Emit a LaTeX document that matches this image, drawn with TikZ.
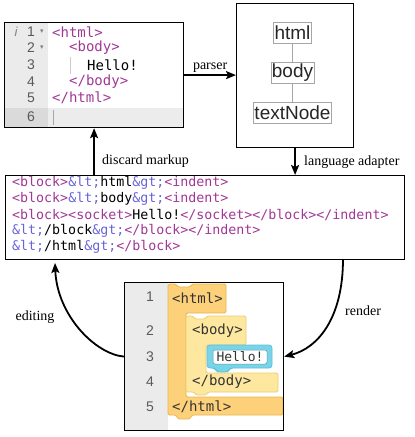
\documentclass[tikz,border=0pt]{standalone}
\usepackage{fontspec}
\setmainfont{Liberation Serif}
\newfontfamily\monof{DejaVu Sans Mono}
\newfontfamily\sansf{Liberation Sans}
\newfontfamily\dejavu{DejaVu Sans}
\usetikzlibrary{arrows.meta}
\definecolor{tagc}{RGB}{160,55,150}
\definecolor{entc}{RGB}{105,100,215}
\definecolor{gutc}{RGB}{235,235,235}
\definecolor{gutd}{RGB}{218,218,218}
\definecolor{rowc}{RGB}{236,236,236}
\definecolor{numc}{RGB}{90,90,90}
\definecolor{htmlfill}{RGB}{253,209,122}
\definecolor{htmldraw}{RGB}{232,182,82}
\definecolor{bodyfill}{RGB}{254,232,160}
\definecolor{bodydraw}{RGB}{236,206,112}
\definecolor{sockfill}{RGB}{122,212,232}
\definecolor{sockdraw}{RGB}{92,192,216}
\newcommand{\tg}[1]{\textcolor{tagc}{#1}}
\newcommand{\en}[1]{\textcolor{entc}{#1}}
\begin{document}
\begin{tikzpicture}[x=1pt,y=-1pt,
  box/.style={draw, line width=1.2pt, inner sep=0pt},
  arr/.style={line width=1.8pt, -{Stealth[length=10pt,width=8pt,inset=2pt]}},
  lbl/.style={font=\fontsize{14}{16}\selectfont, inner sep=1pt},
  edcode/.style={font=\monof\fontsize{14}{16}\selectfont, anchor=west, inner sep=0pt},
  ednum/.style={font=\sansf\fontsize{14}{16}\selectfont, text=numc, anchor=east, inner sep=0pt},
  xmlline/.style={font=\monof\fontsize{13.3}{16}\selectfont, anchor=west, inner sep=0pt},
  treenode/.style={draw=gray!70, line width=0.7pt, font=\sansf\fontsize{19}{21}\selectfont, text=black!85, inner xsep=1pt, inner ysep=0pt, minimum height=21pt},
  blkcode/.style={font=\monof\fontsize{14}{16}\selectfont, text=black!80, anchor=west, inner sep=0pt},
  blknum/.style={font=\sansf\fontsize{14}{16}\selectfont, text=numc, inner sep=0pt}
]
\useasboundingbox (0,0) rectangle (415,437);

% ---------- editor (top left) ----------
\fill[gutc] (4,22) rectangle (48,127);
\fill[gutd] (4,108) rectangle (48,127);
\fill[rowc] (48,108) rectangle (183,127);
\draw[gray!40, line width=0.8pt] (70,57) -- (70,74);
\draw[gray!70, line width=1pt] (53,110) -- (53,125);
\node[font=\sansf\itshape\fontsize{13}{15}\selectfont, text=gray, inner sep=0pt] (ii) at (16,32) {i};
\node[ednum] (n1) at (35,32) {1};
\node[ednum] (n2) at (35,48) {2};
\node[ednum] (n3) at (35,65) {3};
\node[ednum] (n4) at (35,82) {4};
\node[ednum] (n5) at (35,98) {5};
\node[ednum] (n6) at (35,117) {6};
\node[font=\dejavu\fontsize{7}{8}\selectfont, text=gray, inner sep=0pt] (f1) at (42,32) {▾};
\node[font=\dejavu\fontsize{7}{8}\selectfont, text=gray, inner sep=0pt] (f2) at (42,48) {▾};
\node[edcode, text=tagc] (c1) at (52,32) {<html>};
\node[edcode, text=tagc] (c2) at (69,48) {<body>};
\node[edcode, text=black] (c3) at (87,65) {Hello!};
\node[edcode, text=tagc] (c4) at (69,82) {</body>};
\node[edcode, text=tagc] (c5) at (52,98) {</html>};
\node[box, minimum width=179pt, minimum height=105pt, anchor=north west] (editor) at (4,22) {};

% ---------- tree (top right) ----------
\node[box, minimum width=117pt, minimum height=144pt, anchor=north west] (tree) at (236,3) {};
\node[treenode] (thtml) at (292.5,32.5) {html};
\node[treenode] (tbody) at (292.5,72.5) {body};
\node[treenode] (ttext) at (292.5,112.5) {textNode};
\draw[gray!70, line width=0.8pt] (thtml) -- (tbody) -- (ttext);

% ---------- xml text (middle) ----------
\node[box, minimum width=399pt, minimum height=84pt, anchor=north west] (xml) at (5,175) {};
\node[xmlline] (x1) at (12,183) {\tg{<block>}\en{\&lt;}html\en{\&gt;}\tg{<indent>}};
\node[xmlline] (x2) at (12,199) {\tg{<block>}\en{\&lt;}body\en{\&gt;}\tg{<indent>}};
\node[xmlline] (x3) at (12,215) {\tg{<block><socket>}Hello!\tg{</socket></block></indent>}};
\node[xmlline] (x4) at (12,231) {\en{\&lt;}/block\en{\&gt;}\tg{</block></indent>}};
\node[xmlline] (x5) at (12,247) {\en{\&lt;}/html\en{\&gt;}\tg{</block>}};

% ---------- blocks (bottom) ----------
\fill[gutc] (124,282) rectangle (168,430);
\filldraw[fill=htmlfill, draw=htmldraw, line width=0.8pt, rounded corners=1.5pt]
  (168,284) -- (176,284) -- (178,287) -- (190,287) -- (192,284) -- (226,284) -- (226,313)
  -- (186,313) -- (186,397) -- (283,397) -- (283,415) -- (192,415) -- (190,419)
  -- (178,419) -- (176,415) -- (168,415) -- cycle;
\filldraw[fill=bodyfill, draw=bodydraw, line width=0.8pt, rounded corners=1.5pt]
  (186,316) -- (193,316) -- (195,319) -- (205,319) -- (207,316) -- (246,316) -- (246,345)
  -- (206,345) -- (206,373) -- (278,373) -- (278,392) -- (208,392) -- (206,395)
  -- (196,395) -- (194,392) -- (186,392) -- cycle;
\filldraw[fill=sockfill, draw=sockdraw, line width=0.8pt, rounded corners=3pt]
  (207,345) -- (272,345) -- (272,368) -- (230,368) -- (228,372) -- (217,372) -- (215,368) -- (207,368) -- cycle;
\filldraw[fill=white, draw=sockdraw!80!black, line width=0.5pt, rounded corners=2pt] (213,350) rectangle (267,364);
\node[font=\monof\fontsize{13}{15}\selectfont, text=black!80, inner sep=0pt] (hello) at (240,357) {Hello!};
\node[blkcode] (b1) at (172,298) {<html>};
\node[blkcode] (b2) at (192,331) {<body>};
\node[blkcode] (b4) at (192,382) {</body>};
\node[blkcode] (b5) at (172,407) {</html>};
\node[blknum] (m1) at (150,297) {1};
\node[blknum] (m2) at (150,331) {2};
\node[blknum] (m3) at (150,357) {3};
\node[blknum] (m4) at (150,382) {4};
\node[blknum] (m5) at (150,407) {5};
\node[box, minimum width=159pt, minimum height=148pt, anchor=north west] (blocks) at (124,282) {};

% ---------- connectors ----------
\draw[arr] (editor.east) -- (editor.east -| tree.west)
  node[lbl, midway, above=1pt] (lparser) {parser};
\draw[arr] (tree.south) -- (tree.south |- xml.north);
\node[lbl, anchor=west] (llang) at (303,162) {language adapter};
\draw[arr] (editor.south |- xml.north) -- (editor.south);
\node[lbl, anchor=west] (ldisc) at (101,161) {discard markup};
\coordinate (edend) at (55,263);
\draw[arr] (blocks.west) .. controls (95,354) and (57,315) .. (edend);
\node[lbl] (ledit) at (35,317) {editing};
\coordinate (rstart) at (343,259);
\draw[arr] (rstart) .. controls (343,318) and (318,348) .. (blocks.east);
\node[lbl, anchor=west] (lrender) at (344,311) {render};
\end{tikzpicture}
\end{document}
